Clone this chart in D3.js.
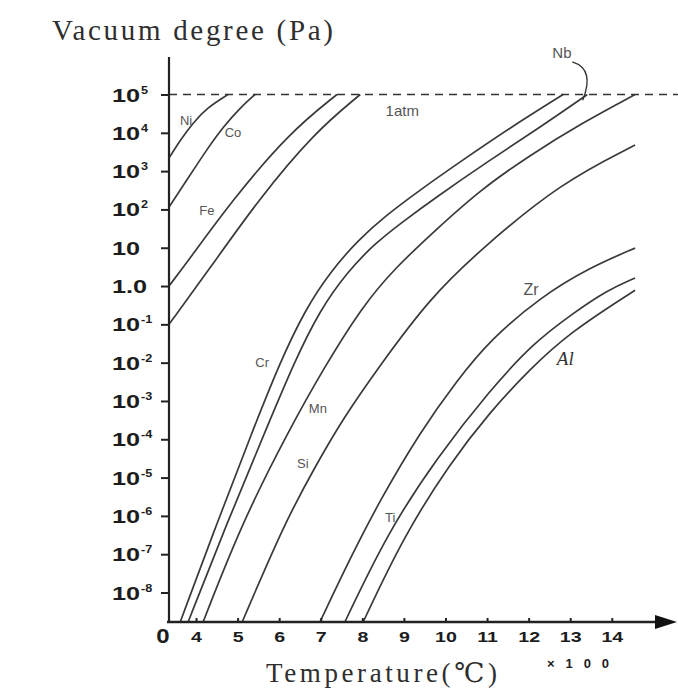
<!DOCTYPE html>
<html>
<head>
<meta charset="utf-8">
<script src="https://cdn.jsdelivr.net/npm/d3@7"></script>
<style>
  body { margin: 0; background: #fff; }
  svg { display: block; }
  .curve { fill: none; stroke: #3a3a3a; stroke-width: 1.7; }
  .num { font-family: "Liberation Sans", Arial, sans-serif; font-weight: bold; fill: #1c1c1c; }
  .lbl { font-family: "Liberation Sans", Arial, sans-serif; fill: #555; }
  .title { font-family: "Liberation Serif", "DejaVu Serif", serif; fill: #2e2e2e; }
</style>
</head>
<body>
<svg width="678" height="700"></svg>
<script>
// temperature in units of 100 °C, vapour pressure given as log10(Pa)
var ni  = [[3.35,3.34],[3.62,3.81],[3.93,4.26],[4.26,4.65],[4.77,5.0]];
var co  = [[3.35,2.06],[3.81,2.82],[4.27,3.58],[4.65,4.15],[5.06,4.65],[5.42,5.0]];
var fe  = [[3.35,0.0],[3.86,0.73],[4.87,2.24],[6.26,4.02],[7.39,5.0]];
var fe2 = [[3.35,-1.0],[4.34,0.47],[5.49,2.24],[6.86,4.02],[7.95,5.0]];
var cr  = [[3.62,-8.77],[4.51,-6.17],[5.35,-3.81],[6.02,-1.99],[6.62,-0.63],[7.22,0.36],[7.90,1.20],[8.55,1.83],[9.39,2.51],[10.35,3.24],[11.55,4.13],[12.83,5.0]];
var nb  = [[3.81,-8.77],[4.75,-6.17],[5.66,-3.81],[6.36,-1.99],[6.98,-0.63],[7.63,0.36],[8.31,1.12],[8.96,1.67],[9.75,2.30],[11.0,3.24],[12.28,4.15],[13.41,5.0]];
var mn  = [[4.17,-8.77],[5.11,-6.17],[6.21,-3.81],[7.10,-2.09],[8.02,-0.50],[8.79,0.47],[9.63,1.33],[10.83,2.51],[12.04,3.42],[13.24,4.23],[14.56,5.0]];
var si  = [[5.11,-8.77],[6.14,-6.16],[6.86,-4.73],[7.51,-3.50],[8.43,-2.06],[9.63,-0.31],[10.83,0.94],[12.76,2.69],[14.56,3.68]];
var zr  = [[6.98,-8.77],[7.71,-7.10],[8.43,-5.58],[9.39,-3.81],[10.28,-2.46],[11.07,-1.41],[12.28,-0.29],[13.48,0.49],[14.56,0.99]];
var ti  = [[7.58,-8.77],[8.60,-6.45],[9.80,-4.47],[11.07,-2.72],[12.11,-1.49],[13.07,-0.71],[13.89,-0.11],[14.56,0.21]];
var al  = [[8.02,-8.77],[8.98,-6.56],[10.11,-4.62],[11.07,-3.29],[12.0,-2.20],[13.0,-1.20],[14.56,-0.11]];

var curves = [ni, co, fe, fe2, cr, nb, mn, si, zr, ti, al];

var xTicks = [4, 5, 6, 7, 8, 9, 10, 11, 12, 13, 14];
var yTicks = [5, 4, 3, 2, 1, 0, -1, -2, -3, -4, -5, -6, -7, -8];
var yLabels = [["10","5"],["10","4"],["10","3"],["10","2"],["10",""],["1.0",""],["10","-1"],["10","-2"],
               ["10","-3"],["10","-4"],["10","-5"],["10","-6"],["10","-7"],["10","-8"]];

// curve names and where they sit (temperature, log10 Pa)
var curveLabels = [
  {text: "Ni", t: 3.76, p: 4.31, size: 13},
  {text: "Co", t: 4.89, p: 4.00, size: 13},
  {text: "Fe", t: 4.26, p: 1.98, size: 13},
  {text: "Cr", t: 5.59, p: -1.99, size: 13},
  {text: "Mn", t: 6.93, p: -3.19, size: 13},
  {text: "Si", t: 6.57, p: -4.63, size: 13},
  {text: "Ti", t: 8.67, p: -6.04, size: 13},
  {text: "Zr", t: 12.06, p: -0.10, size: 16},
  {text: "Nb", t: 12.80, p: 6.08, size: 15},
  {text: "1atm", t: 8.96, p: 4.57, size: 15}
];

var svg = d3.select("svg");

var x = d3.scaleLinear().domain([3.35, 15.4]).range([169, 670]);
var y = d3.scaleLog().domain([Math.pow(10, -8.77), 1e5]).range([622, 94.5]);
var yv = function(e) { return y(Math.pow(10, e)); };

// 1 atm dashed line
svg.append("line")
    .attr("x1", x(3.35)).attr("x2", 678)
    .attr("y1", y(1e5)).attr("y2", y(1e5))
    .attr("stroke", "#333").attr("stroke-width", 1.6)
    .attr("stroke-dasharray", "8,6");

// curves
var line = d3.line()
    .x(d => x(d[0]))
    .y(d => yv(d[1]))
    .curve(d3.curveBasis);

svg.append("g")
    .selectAll("path")
    .data(curves)
    .enter().append("path")
    .attr("class", "curve")
    .attr("d", line);

// y axis
var yAxis = svg.append("g")
    .attr("transform", `translate(${x(3.35)},0)`)
    .call(d3.axisLeft(y).tickValues(yTicks.map(e => Math.pow(10, e))).tickSize(8).tickFormat(""));
yAxis.select(".domain").remove();
yAxis.selectAll(".tick line").attr("stroke", "#222").attr("stroke-width", 2);

svg.append("line")
    .attr("x1", x(3.35)).attr("x2", x(3.35))
    .attr("y1", 57).attr("y2", y.range()[0])
    .attr("stroke", "#222").attr("stroke-width", 2.2);

var yl = svg.append("g").selectAll("g")
    .data(yLabels)
    .enter().append("g")
    .attr("transform", (d, i) => `translate(112,${yv(yTicks[i])})`);
yl.append("text")
    .attr("class", "num")
    .attr("font-size", 19)
    .attr("transform", "translate(0,7) scale(1.33,1)")
    .text(d => d[0]);
yl.append("text")
    .attr("class", "num")
    .attr("font-size", 11)
    .attr("transform", "translate(29,-1) scale(1.15,1)")
    .text(d => d[1]);

// x axis
var xAxis = svg.append("g")
    .attr("transform", `translate(0,${y.range()[0]})`)
    .call(d3.axisBottom(x).tickValues(xTicks).tickSize(-4).tickSizeOuter(0).tickPadding(10));
xAxis.select(".domain").remove();
xAxis.selectAll(".tick line").attr("stroke", "#222").attr("stroke-width", 2);
xAxis.selectAll(".tick text")
    .attr("class", "num")
    .attr("font-size", 14)
    .attr("transform", "scale(1.4,1)");

svg.append("line")
    .attr("x1", 167).attr("x2", 660)
    .attr("y1", y.range()[0]).attr("y2", y.range()[0])
    .attr("stroke", "#222").attr("stroke-width", 2.4);
svg.append("path")
    .attr("d", `M655,${y.range()[0] - 7}L677,${y.range()[0]}L655,${y.range()[0] + 7}Z`)
    .attr("fill", "#111");

svg.append("text")
    .attr("class", "num")
    .attr("font-size", 20)
    .attr("text-anchor", "middle")
    .attr("transform", `translate(163,${y.range()[0] + 21}) scale(1.2,1)`)
    .text("0");

// curve names
svg.append("g").selectAll("text")
    .data(curveLabels)
    .enter().append("text")
    .attr("class", "lbl")
    .attr("x", d => x(d.t))
    .attr("y", d => yv(d.p))
    .attr("dy", "0.35em")
    .attr("text-anchor", "middle")
    .attr("font-size", d => d.size)
    .attr("fill", d => d.size > 13 ? "#333" : "#555")
    .text(d => d.text);

svg.append("text")
    .attr("x", x(12.88)).attr("y", yv(-1.88))
    .attr("dy", "0.35em")
    .attr("text-anchor", "middle")
    .attr("font-family", "Liberation Serif, serif")
    .attr("font-style", "italic")
    .attr("font-size", 19)
    .attr("fill", "#333")
    .text("Al");

// Nb leader
var sx = x(13.05), sy = yv(5.85), ex = x(13.3), ey = yv(4.85);
svg.append("path")
    .attr("d", `M${sx},${sy}C${sx + 16},${sy + 5} ${ex + 8},${ey - 20} ${ex},${ey}`)
    .attr("fill", "none").attr("stroke", "#333").attr("stroke-width", 1.4);

// titles
svg.append("text")
    .attr("class", "title")
    .attr("x", 52).attr("y", 40)
    .attr("font-size", 29)
    .attr("textLength", 281).attr("lengthAdjust", "spacing")
    .text("Vacuum degree (Pa)");

svg.append("text")
    .attr("class", "title")
    .attr("x", 266).attr("y", 682)
    .attr("font-size", 27)
    .attr("textLength", 231).attr("lengthAdjust", "spacing")
    .text("Temperature(℃)");

svg.append("text")
    .attr("class", "num")
    .attr("x", 547).attr("y", 668)
    .attr("font-size", 13)
    .attr("textLength", 62).attr("lengthAdjust", "spacing")
    .text("×100");
</script>
</body>
</html>
